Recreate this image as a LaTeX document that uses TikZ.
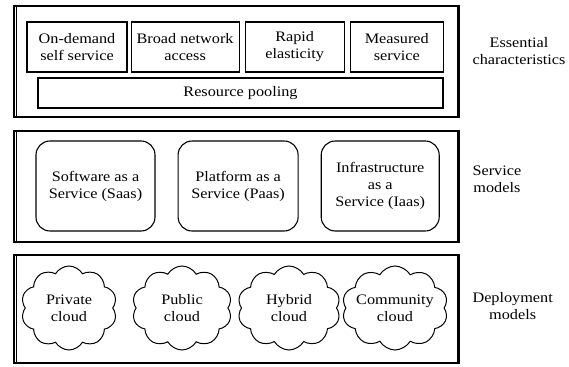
\documentclass[tikz,border=0pt]{standalone}
\usepackage{fontspec}
\setmainfont{Liberation Serif}[FakeStretch=1.12]
\usetikzlibrary{positioning,shapes.symbols}

\begin{document}
\begin{tikzpicture}[
  x=1pt, y=1pt,
  every node/.style={font=\fontsize{14.5}{17}\selectfont},
  layer/.style={draw, line width=1.2pt, inner sep=0pt},
  feature/.style={draw, line width=1.1pt, align=center, minimum height=50pt, inner sep=0pt},
  model/.style={draw, line width=1.1pt, rounded corners=14pt, align=center,
    minimum height=90pt, inner sep=0pt},
  deploy/.style={draw, cloud, cloud puffs=10, cloud puff arc=120, cloud ignores aspect,
    line width=1pt, align=center, minimum width=98pt, minimum height=84pt, inner sep=0pt},
  caption/.style={anchor=west, align=center},
]
\useasboundingbox (0,0) rectangle (569,366);

% Layer frames
\node[layer, minimum width=445pt, minimum height=111pt] (ess) at (236.5,304.5) {};
\node[layer, minimum width=445pt, minimum height=111pt] (svc) at (236.5,179.5) {};
\node[layer, minimum width=445pt, minimum height=108pt] (dep) at (236.5,57) {};
\foreach \f in {ess,svc,dep}{
  \draw[line width=0.6pt] ([xshift=2.6pt]\f.north west) -- ([xshift=2.6pt]\f.south west);
  \draw[line width=0.6pt] ([xshift=-2.6pt]\f.north east) -- ([xshift=-2.6pt]\f.south east);
}

% Essential characteristics
\node[feature, minimum width=100pt] (ondemand) at (77,319) {On-demand\\self service};
\node[feature, minimum width=108pt, right=3pt of ondemand] (network) {Broad network\\access};
\node[feature, minimum width=99pt, right=5pt of network] (elastic) {Rapid\\elasticity};
\node[feature, minimum width=93pt, right=5pt of elastic] (measured) {Measured\\service};
\node[feature, minimum width=405pt, minimum height=30pt] (pool) at (240.5,273) {Resource pooling};

% Service models
\node[model, minimum width=119pt] (saas) at (95.5,180) {Software as a\\Service (Saas)};
\node[model, minimum width=120pt, right=22pt of saas] (paas) {Platform as a\\Service (Paas)};
\node[model, minimum width=118pt, right=22pt of paas] (iaas) {Infrastructure\\as a\\Service (Iaas)};

% Deployment models
\node[deploy, minimum width=96pt] (private) at (69,58) {Private\\cloud};
\node[deploy, minimum width=100pt] (public) at (182,58) {Public\\cloud};
\node[deploy, minimum width=103pt] (hybrid) at (289,58) {Hybrid\\cloud};
\node[deploy, minimum width=106pt, inner xsep=-12pt] (community) at (395,58) {Community\\cloud};

% Layer captions
\node[caption] (esslabel) at (469,315) {Essential\\characteristics};
\node[caption] (svclabel) at (469,187) {Service\\models};
\node[caption] (deplabel) at (469,60) {Deployment\\models};
\end{tikzpicture}
\end{document}
